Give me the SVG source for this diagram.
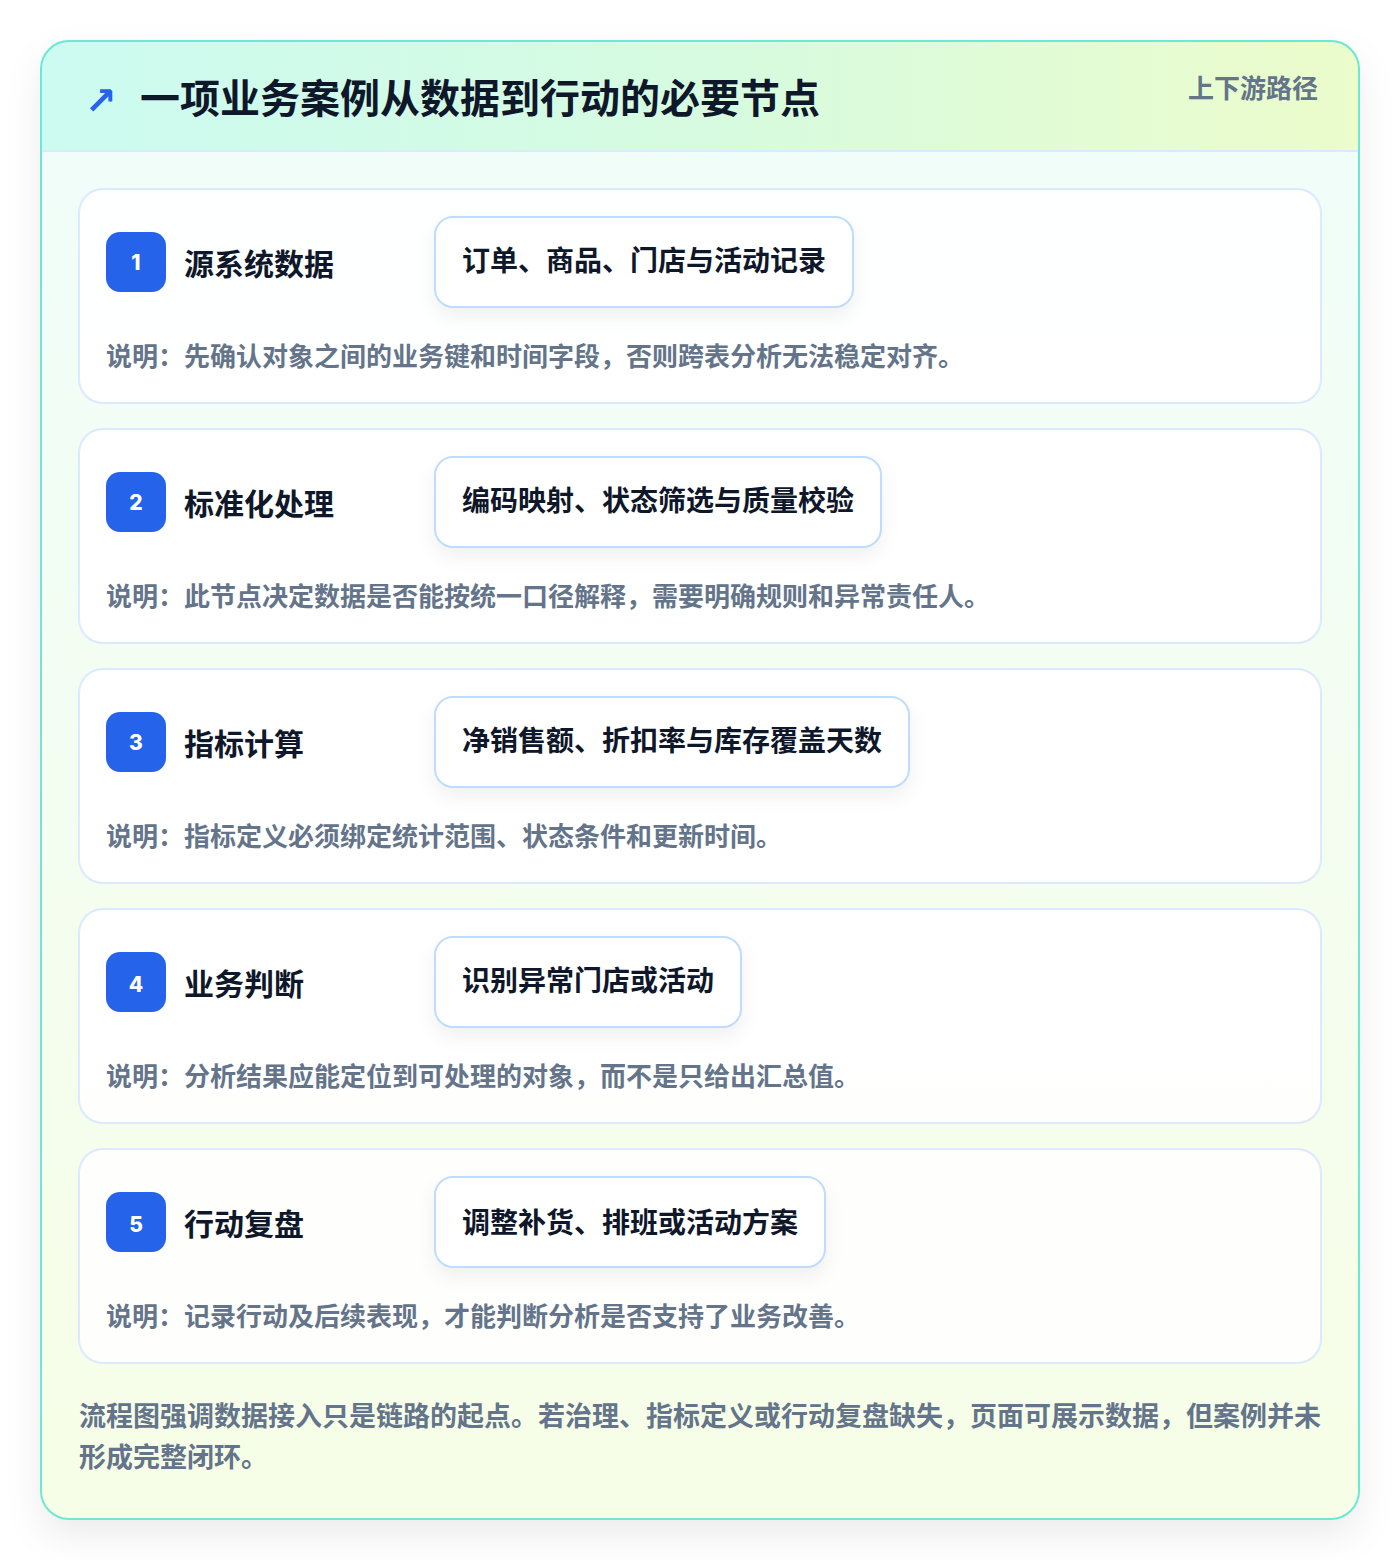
<svg xmlns="http://www.w3.org/2000/svg" width="1400" height="1560" viewBox="0 0 1400 1560">
  <defs>
    <linearGradient id="bodyGrad" x1="0" y1="0" x2="0" y2="1">
      <stop offset="0" stop-color="#f0fdfa"/>
      <stop offset="1" stop-color="#f7fee7"/>
    </linearGradient>
    <linearGradient id="headGrad" x1="0" y1="0" x2="1" y2="0">
      <stop offset="0" stop-color="#ccfbf1"/>
      <stop offset="0.5" stop-color="#d6fbe0"/>
      <stop offset="1" stop-color="#ecfccb"/>
    </linearGradient>
    <filter id="outerShadow" x="-10%" y="-10%" width="120%" height="120%">
      <feDropShadow dx="0" dy="16" stdDeviation="18" flood-color="#0f172a" flood-opacity="0.08"/>
    </filter>
    <filter id="pillShadow" x="-20%" y="-40%" width="140%" height="180%">
      <feDropShadow dx="0" dy="8" stdDeviation="9" flood-color="#0f172a" flood-opacity="0.06"/>
    </filter>
    <clipPath id="cardClip">
      <rect x="41" y="41" width="1318" height="1478" rx="28"/>
    </clipPath>
  </defs>
  <style>
    text { font-family: "Noto Sans CJK SC", "Noto Sans", sans-serif; font-weight: 700; }
    .step { fill: #ffffff; fill-opacity: 0.9; stroke: #dbeafe; stroke-width: 2; }
    .badge { fill: #2563eb; }
    .num { fill: #ffffff; font-size: 21px; font-family: "Inter", "Noto Sans", sans-serif; font-weight: 800; text-anchor: middle; }
    .title { fill: #0f172a; font-size: 30px; }
    .pill { fill: #ffffff; stroke: #bfdbfe; stroke-width: 2; }
    .pilltext { fill: #0f172a; font-size: 28px; }
    .desc { fill: #64748b; font-size: 26px; }
    .foot { fill: #64748b; font-size: 27px; }
  </style>

  <rect x="0" y="0" width="1400" height="1560" fill="#ffffff"/>

  <g id="frame">
    <rect x="41" y="41" width="1318" height="1478" rx="28" fill="url(#bodyGrad)" filter="url(#outerShadow)"/>
    <g clip-path="url(#cardClip)">
      <rect x="41" y="41" width="1318" height="110" fill="url(#headGrad)"/>
      <line x1="41" y1="151" x2="1359" y2="151" stroke="#dbeafe" stroke-width="2"/>
    </g>
    <rect x="41" y="41" width="1318" height="1478" rx="28" fill="none" stroke="#6ee7d4" stroke-width="2"/>
  </g>

  <g id="header">
    <text x="85" y="114" font-size="38" fill="#2563eb" style="font-family:'DejaVu Sans',sans-serif;font-weight:700">↗</text>
    <text x="140" y="113" font-size="40" fill="#0f172a">一项业务案例从数据到行动的必要节点</text>
    <text x="1318" y="98" font-size="26" fill="#64748b" text-anchor="end">上下游路径</text>
  </g>

  <g id="connectors"></g>

  <g id="node1">
    <rect class="step" x="79" y="189" width="1242" height="214" rx="24"/>
    <rect class="badge" x="106" y="232" width="60" height="60" rx="14"/>
    <text class="num" x="136" y="270">1</text>
    <text class="title" x="184" y="275">源系统数据</text>
    <rect class="pill" x="435" y="217" width="418" height="90" rx="18" filter="url(#pillShadow)"/>
    <text class="pilltext" x="462" y="271">订单、商品、门店与活动记录</text>
    <text class="desc" x="106" y="366">说明：先确认对象之间的业务键和时间字段，否则跨表分析无法稳定对齐。</text>
  </g>

  <g id="node2">
    <rect class="step" x="79" y="429" width="1242" height="214" rx="24"/>
    <rect class="badge" x="106" y="472" width="60" height="60" rx="14"/>
    <text class="num" x="136" y="510">2</text>
    <text class="title" x="184" y="515">标准化处理</text>
    <rect class="pill" x="435" y="457" width="446" height="90" rx="18" filter="url(#pillShadow)"/>
    <text class="pilltext" x="462" y="511">编码映射、状态筛选与质量校验</text>
    <text class="desc" x="106" y="606">说明：此节点决定数据是否能按统一口径解释，需要明确规则和异常责任人。</text>
  </g>

  <g id="node3">
    <rect class="step" x="79" y="669" width="1242" height="214" rx="24"/>
    <rect class="badge" x="106" y="712" width="60" height="60" rx="14"/>
    <text class="num" x="136" y="750">3</text>
    <text class="title" x="184" y="755">指标计算</text>
    <rect class="pill" x="435" y="697" width="474" height="90" rx="18" filter="url(#pillShadow)"/>
    <text class="pilltext" x="462" y="751">净销售额、折扣率与库存覆盖天数</text>
    <text class="desc" x="106" y="846">说明：指标定义必须绑定统计范围、状态条件和更新时间。</text>
  </g>

  <g id="node4">
    <rect class="step" x="79" y="909" width="1242" height="214" rx="24"/>
    <rect class="badge" x="106" y="952" width="60" height="60" rx="14"/>
    <text class="num" x="136" y="992">4</text>
    <text class="title" x="184" y="995">业务判断</text>
    <rect class="pill" x="435" y="937" width="306" height="90" rx="18" filter="url(#pillShadow)"/>
    <text class="pilltext" x="462" y="991">识别异常门店或活动</text>
    <text class="desc" x="106" y="1086">说明：分析结果应能定位到可处理的对象，而不是只给出汇总值。</text>
  </g>

  <g id="node5">
    <rect class="step" x="79" y="1149" width="1242" height="214" rx="24"/>
    <rect class="badge" x="106" y="1192" width="60" height="60" rx="14"/>
    <text class="num" x="136" y="1232">5</text>
    <text class="title" x="184" y="1235">行动复盘</text>
    <rect class="pill" x="435" y="1177" width="390" height="90" rx="18" filter="url(#pillShadow)"/>
    <text class="pilltext" x="462" y="1233">调整补货、排班或活动方案</text>
    <text class="desc" x="106" y="1326">说明：记录行动及后续表现，才能判断分析是否支持了业务改善。</text>
  </g>

  <g id="footer">
    <text class="foot" x="79" y="1426">流程图强调数据接入只是链路的起点。若治理、指标定义或行动复盘缺失，页面可展示数据，但案例并未</text>
    <text class="foot" x="79" y="1467">形成完整闭环。</text>
  </g>
</svg>
